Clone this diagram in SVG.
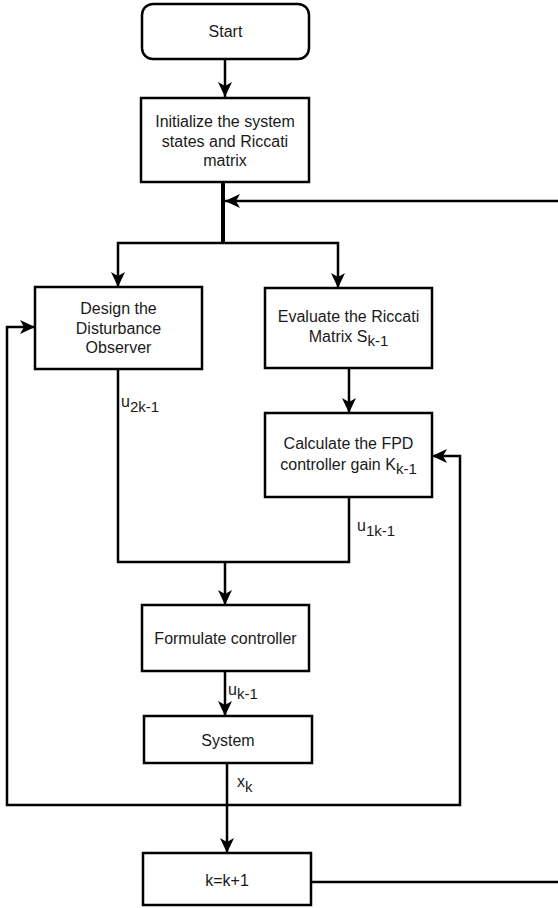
<svg xmlns="http://www.w3.org/2000/svg" width="558" height="908" viewBox="0 0 558 908">
<defs>
<style>
.box{fill:#fff;stroke:#000;stroke-width:2.5}
.ln{fill:none;stroke:#000;stroke-width:2.5}
.thick{fill:none;stroke:#000;stroke-width:4}
.t{font-family:"Liberation Sans",Helvetica,Arial,sans-serif;font-size:16px;fill:#1a1a1a;text-anchor:middle}
.l{font-family:"Liberation Sans",Helvetica,Arial,sans-serif;font-size:16px;fill:#1a1a1a}
.s{font-size:15px}
</style>
<marker id="arr" markerUnits="userSpaceOnUse" markerWidth="16" markerHeight="15" refX="15" refY="7" orient="auto" viewBox="0 0 16 15">
<path d="M0,0 L15,7 L0,14 L4,7 Z" fill="#000"/>
</marker>
</defs>
<rect width="558" height="908" fill="#fff"/>
<g id="connectors">
<path class="ln" d="M225,59 V97" marker-end="url(#arr)"/>
<path class="ln" d="M223,243 H118 V287" marker-end="url(#arr)"/>
<path class="ln" d="M223,243 H338 V288" marker-end="url(#arr)"/>
<path class="thick" d="M223,182 V244"/>
<path class="ln" d="M558,201 H225" marker-end="url(#arr)"/>
<path class="ln" d="M349,368 V413" marker-end="url(#arr)"/>
<path class="ln" d="M118,369 V562 H349 V497"/>
<path class="ln" d="M225,562 V605" marker-end="url(#arr)"/>
<path class="ln" d="M225,671 V716" marker-end="url(#arr)"/>
<path class="ln" d="M227,763 V853" marker-end="url(#arr)"/>
<path class="ln" d="M227,805 H7 V327 H35" marker-end="url(#arr)"/>
<path class="ln" d="M227,805 H460 V456 H432" marker-end="url(#arr)"/>
<path class="ln" d="M311,882 H558"/>
<text class="l" x="121" y="407">u<tspan class="s" dy="5">2k-1</tspan></text>
<text class="l" x="357" y="531">u<tspan class="s" dy="5">1k-1</tspan></text>
<text class="l" x="228" y="695">u<tspan class="s" dy="4">k-1</tspan></text>
<text class="l" x="237" y="787">x<tspan class="s" dy="5">k</tspan></text>
</g>
<g id="start">
<rect class="box" x="142" y="4" width="167" height="55" rx="11"/>
<text class="t" x="225.5" y="37">Start</text>
</g>
<g id="init">
<rect class="box" x="141" y="98" width="168" height="84"/>
<text class="t" x="225" y="127">Initialize the system</text>
<text class="t" x="225" y="147">states and Riccati</text>
<text class="t" x="225" y="166">matrix</text>
</g>
<g id="design">
<rect class="box" x="35" y="287" width="167" height="82"/>
<text class="t" x="118.5" y="314">Design the</text>
<text class="t" x="118.5" y="334">Disturbance</text>
<text class="t" x="118.5" y="353">Observer</text>
</g>
<g id="evaluate">
<rect class="box" x="265" y="288" width="167" height="80"/>
<text class="t" x="348.5" y="322">Evaluate the Riccati</text>
<text class="t" x="348.5" y="342">Matrix S<tspan class="s" dy="4">k-1</tspan></text>
</g>
<g id="calculate">
<rect class="box" x="265" y="413" width="167" height="84"/>
<text class="t" x="348.5" y="449">Calculate the FPD</text>
<text class="t" x="348.5" y="470">controller gain K<tspan class="s" dy="4">k-1</tspan></text>
</g>
<g id="formulate">
<rect class="box" x="142" y="605" width="167" height="66"/>
<text class="t" x="225.5" y="644">Formulate controller</text>
</g>
<g id="system">
<rect class="box" x="144" y="716" width="168" height="47"/>
<text class="t" x="228" y="746">System</text>
</g>
<g id="increment">
<rect class="box" x="143" y="853" width="168" height="52"/>
<text class="t" x="227" y="886">k=k+1</text>
</g>
</svg>
